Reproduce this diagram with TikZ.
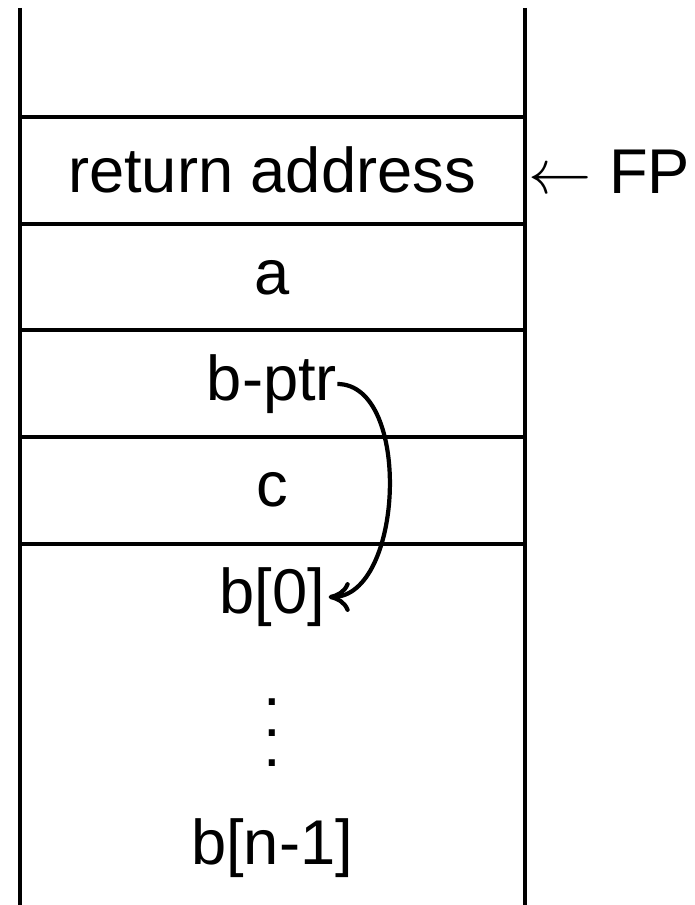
\documentclass[tikz,border=0pt]{standalone}
\usepackage{fix-cm}
\usepackage{fontspec}
\setmainfont{Liberation Sans}
\usepackage{tikz}
\usetikzlibrary{arrows.meta, positioning, calc}

\begin{document}
\begin{tikzpicture}[
  x=0.02cm, y=-0.02cm,
  wall/.style={line width=2.3pt},
  cell/.style={font=\fontsize{36}{40}\selectfont, inner sep=0pt, anchor=center},
  ptrarrow/.style={line width=2.4pt, -{To[length=12pt, width=17pt]}}
]
  \useasboundingbox (0,0) rectangle (695,905);

  % stack walls and slots
  \draw[wall] (20,8) -- (20,905);
  \draw[wall] (525,8) -- (525,905);
  \foreach \y in {117, 224, 330, 437, 544} {
    \draw[wall] (20,\y) -- (525,\y);
  }

  % frame contents
  \node[cell] (ret) at (272,170) {return address};
  \node[cell] (a) at (272,278) {a};
  \node[cell] (bptr) at (272,384) {b-ptr};
  \node[cell] (c) at (272,490) {c};
  \node[cell] (bzero) at (272,597) {b[0]};
  \node[cell, font=\fontsize{36}{17.6}\selectfont, align=center, anchor=north] (dots) at (272,698) {.\\.\\.};
  \node[cell] (blast) at (272,848) {b[n-1]};

  % frame pointer
  \node[cell, anchor=west] (fp) at (528,172) {$\leftarrow$ FP};

  % b-ptr points to b[0]
  \draw[ptrarrow] (bptr.east) to[out=0, in=0, looseness=0.9] ([xshift=2pt]bzero.east);
\end{tikzpicture}
\end{document}
